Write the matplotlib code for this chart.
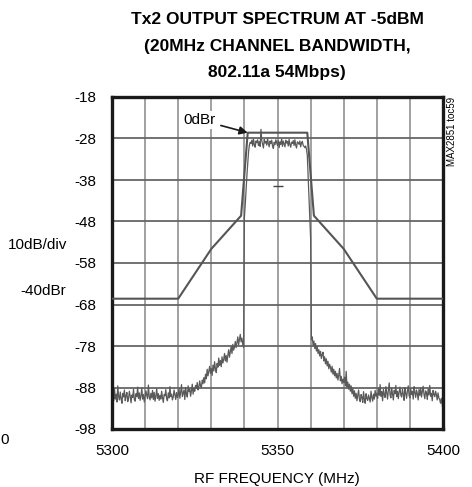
import numpy as np
import matplotlib
matplotlib.use("Agg")
import matplotlib.pyplot as plt

plt.rcParams['font.family'] = ['Liberation Sans', 'DejaVu Sans']

# Measured trace, 0.25 MHz steps from 5300 to 5400 MHz (dBm)
trace_lo_floor = [
    -92.0, -90.5, -91.2, -88.2, -90.8, -89.6, -91.5, -87.6, -90.2, -91.0,
    -89.1, -90.7, -91.8, -89.4, -90.3, -88.6, -91.2, -90.0, -89.2, -91.4,
    -90.6, -88.9, -90.1, -91.7, -89.8, -90.4, -88.4, -90.9, -91.3, -89.5,
    -90.2, -87.9, -90.6, -89.3, -91.1, -90.0, -88.1, -90.8, -89.7, -91.5,
    -90.3, -88.8, -89.9, -90.7, -87.4, -90.2, -91.0, -89.4, -90.5, -88.7,
    -90.9, -89.2, -91.3, -90.1, -88.3, -90.6, -89.5, -91.1, -89.9, -90.8,
    -88.9, -90.4, -91.6, -89.7, -90.0, -88.5, -90.7, -91.2, -89.3, -90.5,
    -87.8, -90.2, -89.6, -91.0, -90.3, -88.6, -89.8, -90.9, -89.2, -90.4,
]
trace_lo_skirt = [
    -89.8, -88.2, -90.6, -89.1, -87.3, -90.2, -89.4, -88.6, -90.9, -88.0,
    -89.5, -90.3, -87.6, -89.0, -88.4, -90.1, -88.8, -87.2, -89.6, -88.3,
    -88.9, -87.5, -88.2, -86.8, -88.6, -87.9, -86.4, -87.6, -88.0, -86.2,
    -87.1, -85.6, -86.9, -84.8, -85.9, -83.6, -85.2, -84.1, -82.9, -84.6,
    -83.4, -85.1, -82.6, -84.0, -81.8, -83.5, -84.4, -82.2, -83.1, -80.9,
    -82.7, -81.5, -83.0, -80.6, -82.1, -81.2, -79.8, -81.6, -80.3, -81.9,
    -80.2, -78.9, -80.7, -79.4, -78.1, -79.8, -77.6, -79.0, -78.3, -76.9,
    -78.4, -77.2, -75.8, -77.7, -76.4, -75.2, -77.0, -76.1, -77.6, -78.3,
]
trace_channel = [
    -47.0, -44.0, -40.5, -37.0, -34.0, -31.3, -29.6, -28.9,
    -29.2, -28.4, -29.8, -28.1, -29.5, -30.1, -28.6, -29.0, -28.3, -29.7,
    -28.8, -29.9, -25.8, -28.5, -29.4, -30.3, -28.2, -29.1, -28.7, -29.6,
    -28.0, -29.3, -30.0, -28.6, -29.2, -28.4, -29.8, -30.4, -28.9, -29.5,
    -28.3, -29.0, -29.7, -28.5, -30.2, -28.8, -29.4, -28.1, -29.9, -28.6,
    -29.3, -30.0, -28.4, -29.1, -28.7, -29.8, -28.2, -29.5, -30.1, -28.9,
    -29.2, -28.5, -29.7, -28.3, -29.6, -30.3, -28.8, -29.0, -29.4, -28.6,
    -30.0, -29.1, -28.7, -29.6, -29.9, -30.2,
    -29.8, -30.6, -32.0, -37.0, -42.0, -47.0,
]
trace_hi_skirt = [
    -52.0, -76.5, -75.8, -77.9, -76.8, -78.6, -77.4, -79.2, -78.1, -79.8,
    -78.9, -80.4, -79.3, -81.0, -80.1, -79.5, -81.6, -80.6, -82.3, -81.1,
    -82.8, -81.7, -83.5, -82.4, -83.1, -84.3, -82.9, -84.8, -83.6, -85.2,
    -84.1, -85.7, -84.6, -86.2, -85.0, -83.4, -86.4, -85.3, -87.1, -86.0,
    -86.8, -85.5, -87.6, -84.1, -87.9, -86.7, -88.4, -87.2, -88.9, -87.6,
    -89.5, -88.2, -90.1, -88.8, -90.6, -89.4, -91.2, -89.9, -88.6, -90.8,
    -91.4, -89.7, -90.3, -91.6, -89.0, -90.9, -91.8, -89.5, -90.6, -91.1,
    -89.8, -90.7, -91.5, -88.9, -90.4, -91.3, -89.6, -90.8, -88.7, -90.1,
]
trace_hi_floor = [
    -89.4, -90.6, -88.2, -89.9, -87.3, -90.1, -89.0, -91.2, -88.5, -89.7,
    -90.4, -87.8, -89.3, -90.8, -88.6, -86.9, -89.8, -90.5, -88.1, -89.6,
    -91.0, -88.7, -89.5, -87.5, -90.2, -88.9, -90.7, -89.1, -87.9, -89.8,
    -90.3, -88.4, -89.6, -91.1, -88.0, -89.4, -90.6, -88.8, -87.6, -89.9,
    -90.5, -88.3, -89.7, -88.9, -90.8, -87.8, -89.2, -90.4, -88.6, -89.5,
    -91.0, -88.5, -89.9, -88.1, -90.3, -89.0, -87.7, -89.6, -90.7, -88.8,
    -89.3, -90.9, -88.4, -89.8, -87.5, -90.1, -89.4, -91.2, -88.7, -89.6,
    -90.2, -88.9, -89.7, -91.0, -89.3, -90.5, -90.9, -91.8, -90.6, -92.0,
    -93.4,
]
trace_db = trace_lo_floor + trace_lo_skirt + trace_channel + trace_hi_skirt + trace_hi_floor
trace_freq = np.linspace(5300, 5400, len(trace_db))

# Spectral mask (802.11a), relative to the 0dBr reference level
ref_level = -26.6
mask_freq = [5300, 5320, 5330, 5339, 5341, 5359, 5361, 5370, 5380, 5400]
mask_dbr = [-40, -40, -28, -20, 0, 0, -20, -28, -40, -40]

center_freq = 5350
center_level = -39.5

y_ticks = [-18, -28, -38, -48, -58, -68, -78, -88, -98]
x_ticks = [5300, 5350, 5400]

fig = plt.figure(figsize=(4.72, 4.87), dpi=100)
ax = fig.add_axes([112 / 472, 1 - 429 / 487, 331 / 472, 332 / 487])

ax.set_xlim(5300, 5400)
ax.set_ylim(-98, -18)

for f in np.arange(5310, 5400, 10):
    ax.axvline(f, color='#9a9a9a', lw=1.3, zorder=1)
for y in np.arange(-88, -18, 10):
    ax.axhline(y, color='#666666', lw=1.3, zorder=1)

ax.plot(mask_freq, [ref_level + d for d in mask_dbr], color='#555555', lw=1.5, zorder=3)
ax.plot(trace_freq, trace_db, color='#5a5a5a', lw=0.9, zorder=2)
ax.plot([center_freq], [center_level], marker='_', ms=7, mew=1.0, color='#444444', zorder=3)

ax.set_xticks(x_ticks)
ax.set_yticks(y_ticks)
ax.set_xticklabels([str(v) for v in x_ticks], fontsize=11)
ax.set_yticklabels([str(v) for v in y_ticks], fontsize=11)
ax.tick_params(length=0)
ax.tick_params(axis='y', pad=11)
ax.tick_params(axis='x', pad=11)
for s in ax.spines.values():
    s.set_linewidth(2.4)
    s.set_color('#1a1a1a')

fig.text(277 / 472, 1 - 479 / 487, 'RF FREQUENCY (MHz)', ha='center', va='center', fontsize=11)

title_lines = ['Tx2 OUTPUT SPECTRUM AT -5dBM', '(20MHz CHANNEL BANDWIDTH,', '802.11a 54Mbps)']
for i, line in enumerate(title_lines):
    fig.text(277 / 472, 1 - (20 + 26 * i) / 487, line, ha='center', va='center',
             fontsize=12.5, fontweight='bold')

fig.text(38 / 472, 1 - 245 / 487, '10dB/div', ha='center', va='center', fontsize=11)
fig.text(43 / 472, 1 - 291 / 487, '-40dBr', ha='center', va='center', fontsize=11)
fig.text(0, 1 - 440 / 487, '0', ha='left', va='center', fontsize=11)
fig.text(452 / 472, 1 - 131 / 487, 'MAX2851 toc59', ha='center', va='center',
         rotation=90, fontsize=7)

ax.annotate('0dBr', xy=(5341, ref_level), xytext=(5326.5, -23.5),
            fontsize=11, ha='center', va='center',
            bbox=dict(boxstyle='square,pad=0.15', fc='white', ec='none'),
            arrowprops=dict(arrowstyle='-|>', color='#1a1a1a', lw=1.2,
                            mutation_scale=12, shrinkA=2, shrinkB=0),
            zorder=4)

fig.savefig('out.png', dpi=100)
